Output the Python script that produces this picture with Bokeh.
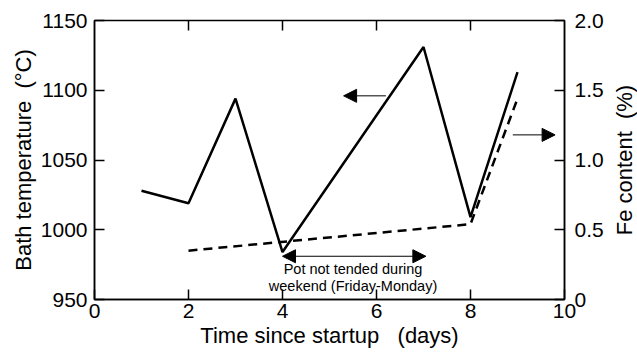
import math
from bokeh.plotting import figure
from bokeh.layouts import row
from bokeh.models import Range1d, LinearAxis, FixedTicker, Arrow, NormalHead, ColumnDataSource
from bokeh.core.properties import value
from bokeh.embed import file_html
from bokeh.resources import INLINE

# data
days_temp = [1, 2, 3, 4, 7, 8, 9]
bath_temp = [1028, 1019, 1094, 984, 1131, 1009, 1113]
days_fe = [2, 8, 9]
fe_content = [0.35, 0.54, 1.44]

x_ticks = [0, 2, 4, 6, 8, 10]
top_ticks = [2, 4, 6, 8]
temp_ticks = [950, 1000, 1050, 1100, 1150]
fe_ticks = [0, 0.5, 1.0, 1.5, 2.0]
fe_tick_labels = {0: "0", 0.5: "0.5", 1: "1.0", 1.5: "1.5", 2: "2.0"}

note_lines = ["Pot not tended during", "weekend (Friday-Monday)"]
note_x = [5.5, 5.5]
note_y = [972, 960]
weekend_span = [4.0, 7.05]
weekend_y = 981
left_arrow_x = [6.2, 5.3]
left_arrow_y = 1096
right_arrow_x = [8.9, 9.8]
right_arrow_fe = 1.18

FONT = "Liberation Sans"
NB = "\u00a0"
fe_title = "Fe content" + NB * 2 + "(%)"

TOP, BOTTOM = 20, 55

p = figure(width=611, height=354, output_backend="svg", toolbar_location=None,
           x_range=Range1d(0, 10), y_range=Range1d(950, 1150),
           min_border_left=94, min_border_right=47, min_border_top=TOP, min_border_bottom=BOTTOM,
           x_axis_location=None, y_axis_location=None)
p.extra_y_ranges = {"fe": Range1d(0, 2)}
p.grid.visible = False
p.outline_line_color = "black"
p.outline_line_width = 1.5
p.background_fill_color = "white"
p.border_fill_color = "white"


def style(ax, ticks):
    ax.ticker = FixedTicker(ticks=ticks)
    ax.major_tick_in = 10
    ax.major_tick_out = 0
    ax.minor_tick_in = 0
    ax.minor_tick_out = 0
    ax.major_tick_line_width = 1.5
    ax.axis_line_width = 1.5
    ax.axis_line_color = "black"
    ax.major_tick_line_color = "black"
    ax.major_label_text_font = FONT
    ax.major_label_text_font_size = "21px"
    ax.major_label_text_color = "black"
    ax.axis_label_text_font = FONT
    ax.axis_label_text_font_size = "22px"
    ax.axis_label_text_font_style = "normal"
    ax.axis_label_text_color = "black"


xb = LinearAxis(axis_label="Time since startup" + NB * 3 + "(days)")
style(xb, x_ticks)
xb.major_label_standoff = 4
xb.axis_label_standoff = 2
p.add_layout(xb, "below")

yl = LinearAxis(axis_label="Bath temperature" + NB * 2 + "(°C)")
style(yl, temp_ticks)
yl.major_label_standoff = 7
yl.axis_label_standoff = 2
p.add_layout(yl, "left")

yr = LinearAxis(y_range_name="fe")
style(yr, fe_ticks)
yr.major_label_overrides = fe_tick_labels
yr.major_label_standoff = 10
p.add_layout(yr, "right")

# inward ticks along the top edge of the frame
p.ray(x=top_ticks, y=[1150] * len(top_ticks), length=10, length_units="screen",
      angle=-math.pi / 2, line_color="black", line_width=1.5)

p.line(days_temp, bath_temp, line_color="black", line_width=2.5)
p.line(days_fe, fe_content, y_range_name="fe", line_color="black", line_width=2.5,
       line_dash="9 6")

head = dict(size=13, fill_color="black", line_color="black")
p.add_layout(Arrow(start=NormalHead(**head), end=NormalHead(**head),
                   x_start=weekend_span[0], x_end=weekend_span[1],
                   y_start=weekend_y, y_end=weekend_y, line_width=1))
p.add_layout(Arrow(end=NormalHead(**head),
                   x_start=left_arrow_x[0], x_end=left_arrow_x[1],
                   y_start=left_arrow_y, y_end=left_arrow_y, line_width=1))
p.add_layout(Arrow(end=NormalHead(**head), y_range_name="fe",
                   x_start=right_arrow_x[0], x_end=right_arrow_x[1],
                   y_start=right_arrow_fe, y_end=right_arrow_fe, line_width=1))

src = ColumnDataSource(dict(x=note_x, y=note_y, t=note_lines))
p.text(x="x", y="y", text="t", source=src, text_align="center", text_baseline="middle",
       text_font=value(FONT), text_font_size="14.5px", text_color="black")

# narrow strip on the right carrying the Fe axis title (reads bottom to top)
q = figure(width=26, height=354, output_backend="svg", toolbar_location=None,
           x_range=Range1d(0, 1), y_range=Range1d(0, 2),
           min_border_left=0, min_border_right=0, min_border_top=TOP, min_border_bottom=BOTTOM,
           x_axis_location=None, y_axis_location=None)
q.grid.visible = False
q.outline_line_color = None
q.background_fill_color = "white"
q.border_fill_color = "white"
q.text(x=[0.5], y=[1.0], text=[fe_title], angle=math.pi / 2, text_align="center",
       text_baseline="middle", text_font=value(FONT), text_font_size="22px", text_color="black")

layout = row(p, q, spacing=0)
open("out.html", "w").write(file_html(layout, INLINE))
